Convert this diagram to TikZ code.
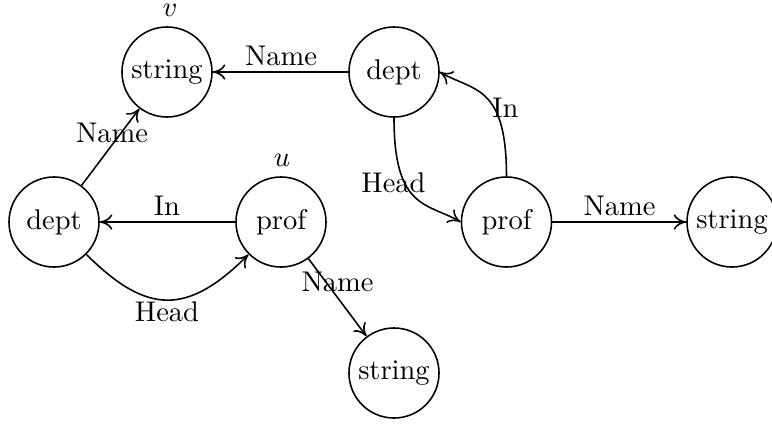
\documentclass[tikz,border=0pt]{standalone}
\usetikzlibrary{arrows.meta}
\begin{document}
\begin{tikzpicture}[x=0.351pt,y=0.351pt,
  state/.style={circle,draw,line width=0.55pt,minimum size=31.6pt,inner sep=0pt},
  conn/.style={line width=0.55pt,-{To[length=4.4pt,width=5.4pt]}},
  lbl/.style={inner sep=0pt}]
\useasboundingbox (0,0) rectangle (772,-423);

% states
\node[state] (sv) at (167,-72)  {string};
\node[state] (dt) at (394,-72)  {dept};
\node[state] (dl) at (54,-222)  {dept};
\node[state] (pu) at (281,-222) {prof};
\node[state] (pr) at (506.5,-222) {prof};
\node[state] (sr) at (732,-222) {string};
\node[state] (sb) at (394,-373) {string};

% variable names
\node (lv) at (170,-10)  {$v$};
\node (lu) at (282,-160) {$u$};

% transitions
\draw[conn] (dt) -- (sv);
\draw[conn] (dl) -- (sv);
\draw[conn] (pu) -- (dl);
\draw[conn] (dl.-45) to[out=-45,in=-135,looseness=1.36] (pu.-135);
\draw[conn] (pu) -- (sb);
\draw[conn] (dt.south) to[out=-90,in=150,out looseness=1.9,in looseness=0.8] (pr.west);
\draw[conn] (pr.north) to[out=90,in=-30,out looseness=1.9,in looseness=0.8] (dt.east);
\draw[conn] (pr) -- (sr);

% transition labels
\node[lbl] (l1) at (281,-56)     {Name};
\node[lbl] (l2) at (112,-132.5)  {Name};
\node[lbl] (l3) at (167,-205.5)  {In};
\node[lbl] (l4) at (167,-312)    {Head};
\node[lbl] (l5) at (337.5,-282)  {Name};
\node[lbl] (l6) at (393.5,-183)  {Head};
\node[lbl] (l7) at (505.5,-108)  {In};
\node[lbl] (l8) at (619.5,-206)  {Name};
\end{tikzpicture}
\end{document}
